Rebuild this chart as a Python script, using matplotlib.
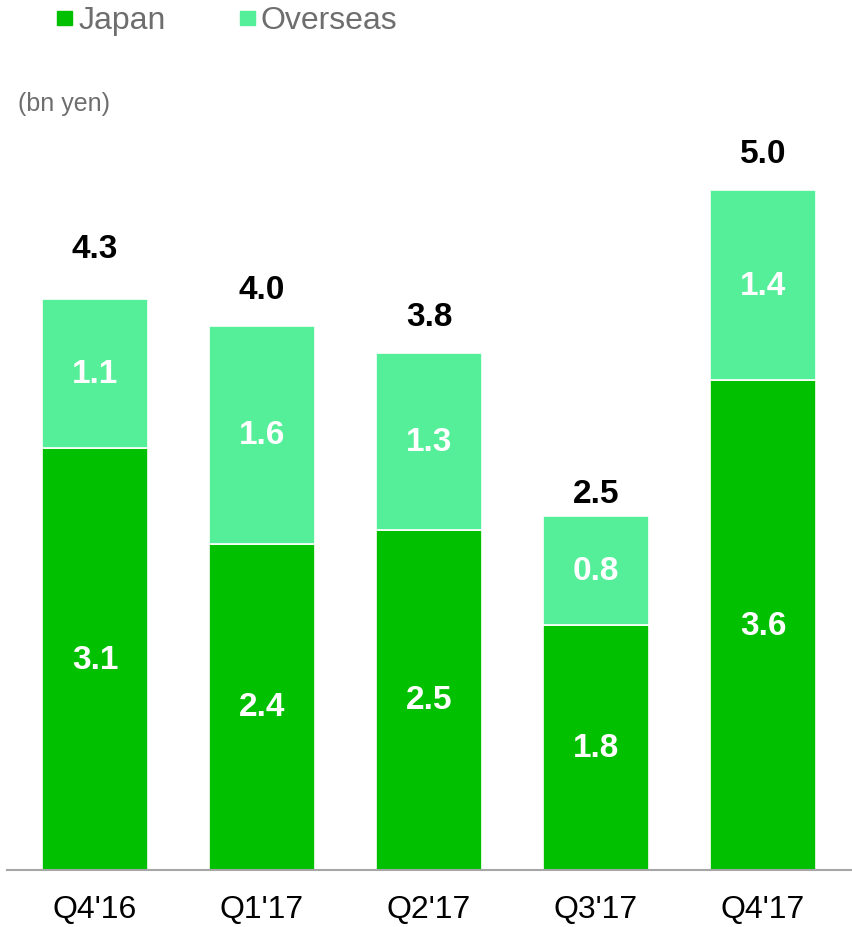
import matplotlib
matplotlib.use("Agg")
import matplotlib.pyplot as plt
from matplotlib.patches import Rectangle
from matplotlib import font_manager

quarters = ["Q4'16", "Q1'17", "Q2'17", "Q3'17", "Q4'17"]
japan = [3.1, 2.4, 2.5, 1.8, 3.6]
overseas = [1.1, 1.6, 1.3, 0.8, 1.4]
totals = [4.3, 4.0, 3.8, 2.5, 5.0]

JAPAN_COLOR = "#00C000"
OVERSEAS_COLOR = "#55EE99"
GRAY = "#6E6E6E"

available = {f.name for f in font_manager.fontManager.ttflist}
narrow = "Liberation Sans Narrow" if "Liberation Sans Narrow" in available else "Liberation Sans"
plt.rcParams["font.family"] = ["Liberation Sans", "DejaVu Sans"]

W, H = 853, 928
fig = plt.figure(figsize=(W / 100, H / 100), dpi=100)

# axes placed in pixel terms: baseline at y=871, 136 px per bn yen, 167 px per category
baseline_px = 871
px_per_unit = 136
ymax = 6.0
top_px = baseline_px - ymax * px_per_unit
ax = fig.add_axes([7 / W, (H - baseline_px) / H, (853 - 7) / W, (baseline_px - top_px) / H])
step = 167
ax.set_xlim(-(95 - 7) / step, (853 - 95) / step)
ax.set_ylim(0, ymax)

x = list(range(len(quarters)))
width = 106 / step
ax.bar(x, japan, width=width, color=JAPAN_COLOR, edgecolor="white", linewidth=1.2, zorder=2)
ax.bar(x, overseas, width=width, bottom=japan, color=OVERSEAS_COLOR, edgecolor="white",
       linewidth=1.2, zorder=2)

for i in x:
    ax.text(i, japan[i] / 2, f"{japan[i]:.1f}", ha="center", va="center", color="white",
            fontsize=24, fontweight="bold", zorder=3)
    ax.text(i, japan[i] + overseas[i] / 2, f"{overseas[i]:.1f}", ha="center", va="center",
            color="white", fontsize=24, fontweight="bold", zorder=3)
    ax.text(i, totals[i] + 0.27, f"{totals[i]:.1f}", ha="center", va="center",
            color="black", fontsize=24, fontweight="bold", zorder=3)

for s in ["top", "right", "left"]:
    ax.spines[s].set_visible(False)
ax.spines["bottom"].set_color("#A6A6A6")
ax.spines["bottom"].set_linewidth(1.5)
ax.set_yticks([])
ax.set_xticks(x)
ax.set_xticklabels(quarters, fontsize=23, family=[narrow, "DejaVu Sans"])
ax.tick_params(axis="x", length=0, pad=17)

# legend
fig.patches.append(Rectangle((57 / W, 1 - 26 / H), 15 / W, 14 / H, transform=fig.transFigure,
                             color=JAPAN_COLOR))
fig.text(79 / W, 1 - 21 / H, "Japan", fontsize=23, color=GRAY, va="center", ha="left")
fig.patches.append(Rectangle((240 / W, 1 - 26 / H), 15 / W, 14 / H, transform=fig.transFigure,
                             color=OVERSEAS_COLOR))
fig.text(261 / W, 1 - 21 / H, "Overseas", fontsize=23, color=GRAY, va="center", ha="left")

fig.text(18 / W, 1 - 104 / H, "(bn yen)", fontsize=18, color=GRAY, va="center", ha="left")

fig.savefig("out.png", dpi=100, facecolor="white")
